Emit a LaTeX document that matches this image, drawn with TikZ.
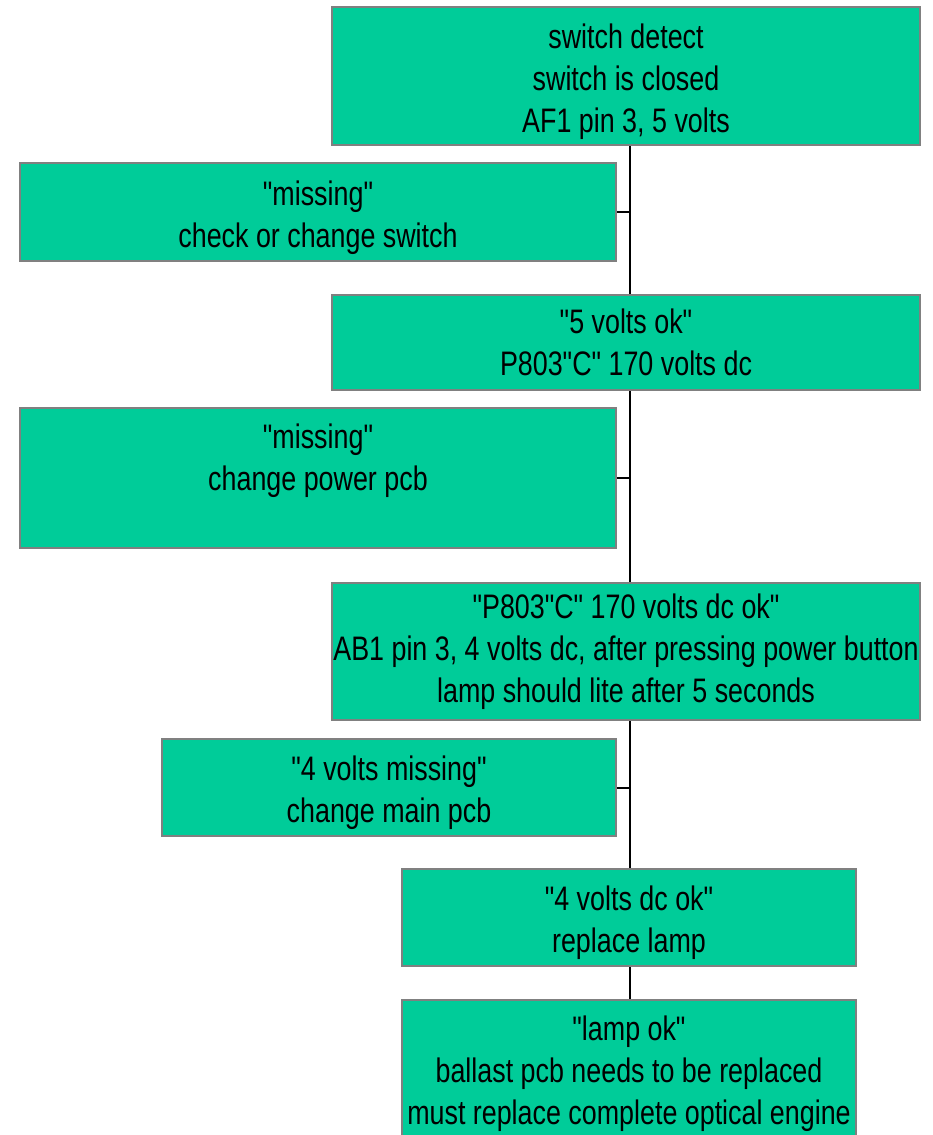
\documentclass[tikz,border=0pt]{standalone}
\usepackage{fontspec}
\setmainfont[FakeStretch=0.79, Ligatures=TeXOff]{Liberation Sans}
\usepackage{tikz}
\usetikzlibrary{positioning}
\definecolor{boxgreen}{HTML}{00CC99}
\newcommand{\lift}{\rule{0pt}{36pt}}

\begin{document}
\begin{tikzpicture}[x=1pt,y=-1pt,
  tbox/.style={draw=gray, line width=2pt, fill=boxgreen, align=center,
    inner sep=0pt, font=\fontsize{34}{42}\selectfont},
  link/.style={line width=2pt, black}]
\useasboundingbox (0,0) rectangle (932,1135);

% --- Main chain (right column) ---
\node[tbox, minimum width=588pt, minimum height=138pt] (detect) at (626,76)
  {\lift switch detect\\switch is closed\\AF1 pin 3, 5 volts};
\node[tbox, minimum width=588pt, minimum height=95pt] (fiveok) at (626,342.5)
  {"5 volts ok"\\P803"C" 170 volts dc};
\node[tbox, minimum width=588pt, minimum height=137pt] (highok) at (626,651.5)
  {"P803"C" 170 volts dc ok"\\\makebox[588pt]{AB1 pin 3, 4 volts dc, after pressing power button}\\lamp should lite after 5 seconds};
\node[tbox, minimum width=454pt, minimum height=97pt] (fourok) at (629,917.5)
  {\lift"4 volts dc ok"\\replace lamp};
\node[tbox, minimum width=454pt, minimum height=137pt] (lampok) at (629,1068.5)
  {\lift"lamp ok"\\ballast pcb needs to be replaced\\must replace complete optical engine};

% --- Side branches (left column) ---
\node[tbox, minimum width=596pt, minimum height=98pt] (switchmiss) at (318,212)
  {\lift"missing"\\check or change switch};
\node[tbox, minimum width=596pt, minimum height=140pt] (powermiss) at (318,478)
  {"missing"\\change power pcb\\~};
\node[tbox, minimum width=454pt, minimum height=97pt] (fourmiss) at (389,787.5)
  {\lift"4 volts missing"\\change main pcb};

% --- Connectors ---
\coordinate (spine) at (630,0);
\draw[link] (detect.south -| spine) -- (fiveok.north -| spine);
\draw[link] (fiveok.south -| spine) -- (highok.north -| spine);
\draw[link] (highok.south -| spine) -- (fourok.north -| spine);
\draw[link] (fourok.south -| spine) -- (lampok.north -| spine);
\draw[link] (switchmiss.east) -- (switchmiss.east -| spine);
\draw[link] (powermiss.east) -- (powermiss.east -| spine);
\draw[link] (fourmiss.east) -- (fourmiss.east -| spine);
\end{tikzpicture}
\end{document}
